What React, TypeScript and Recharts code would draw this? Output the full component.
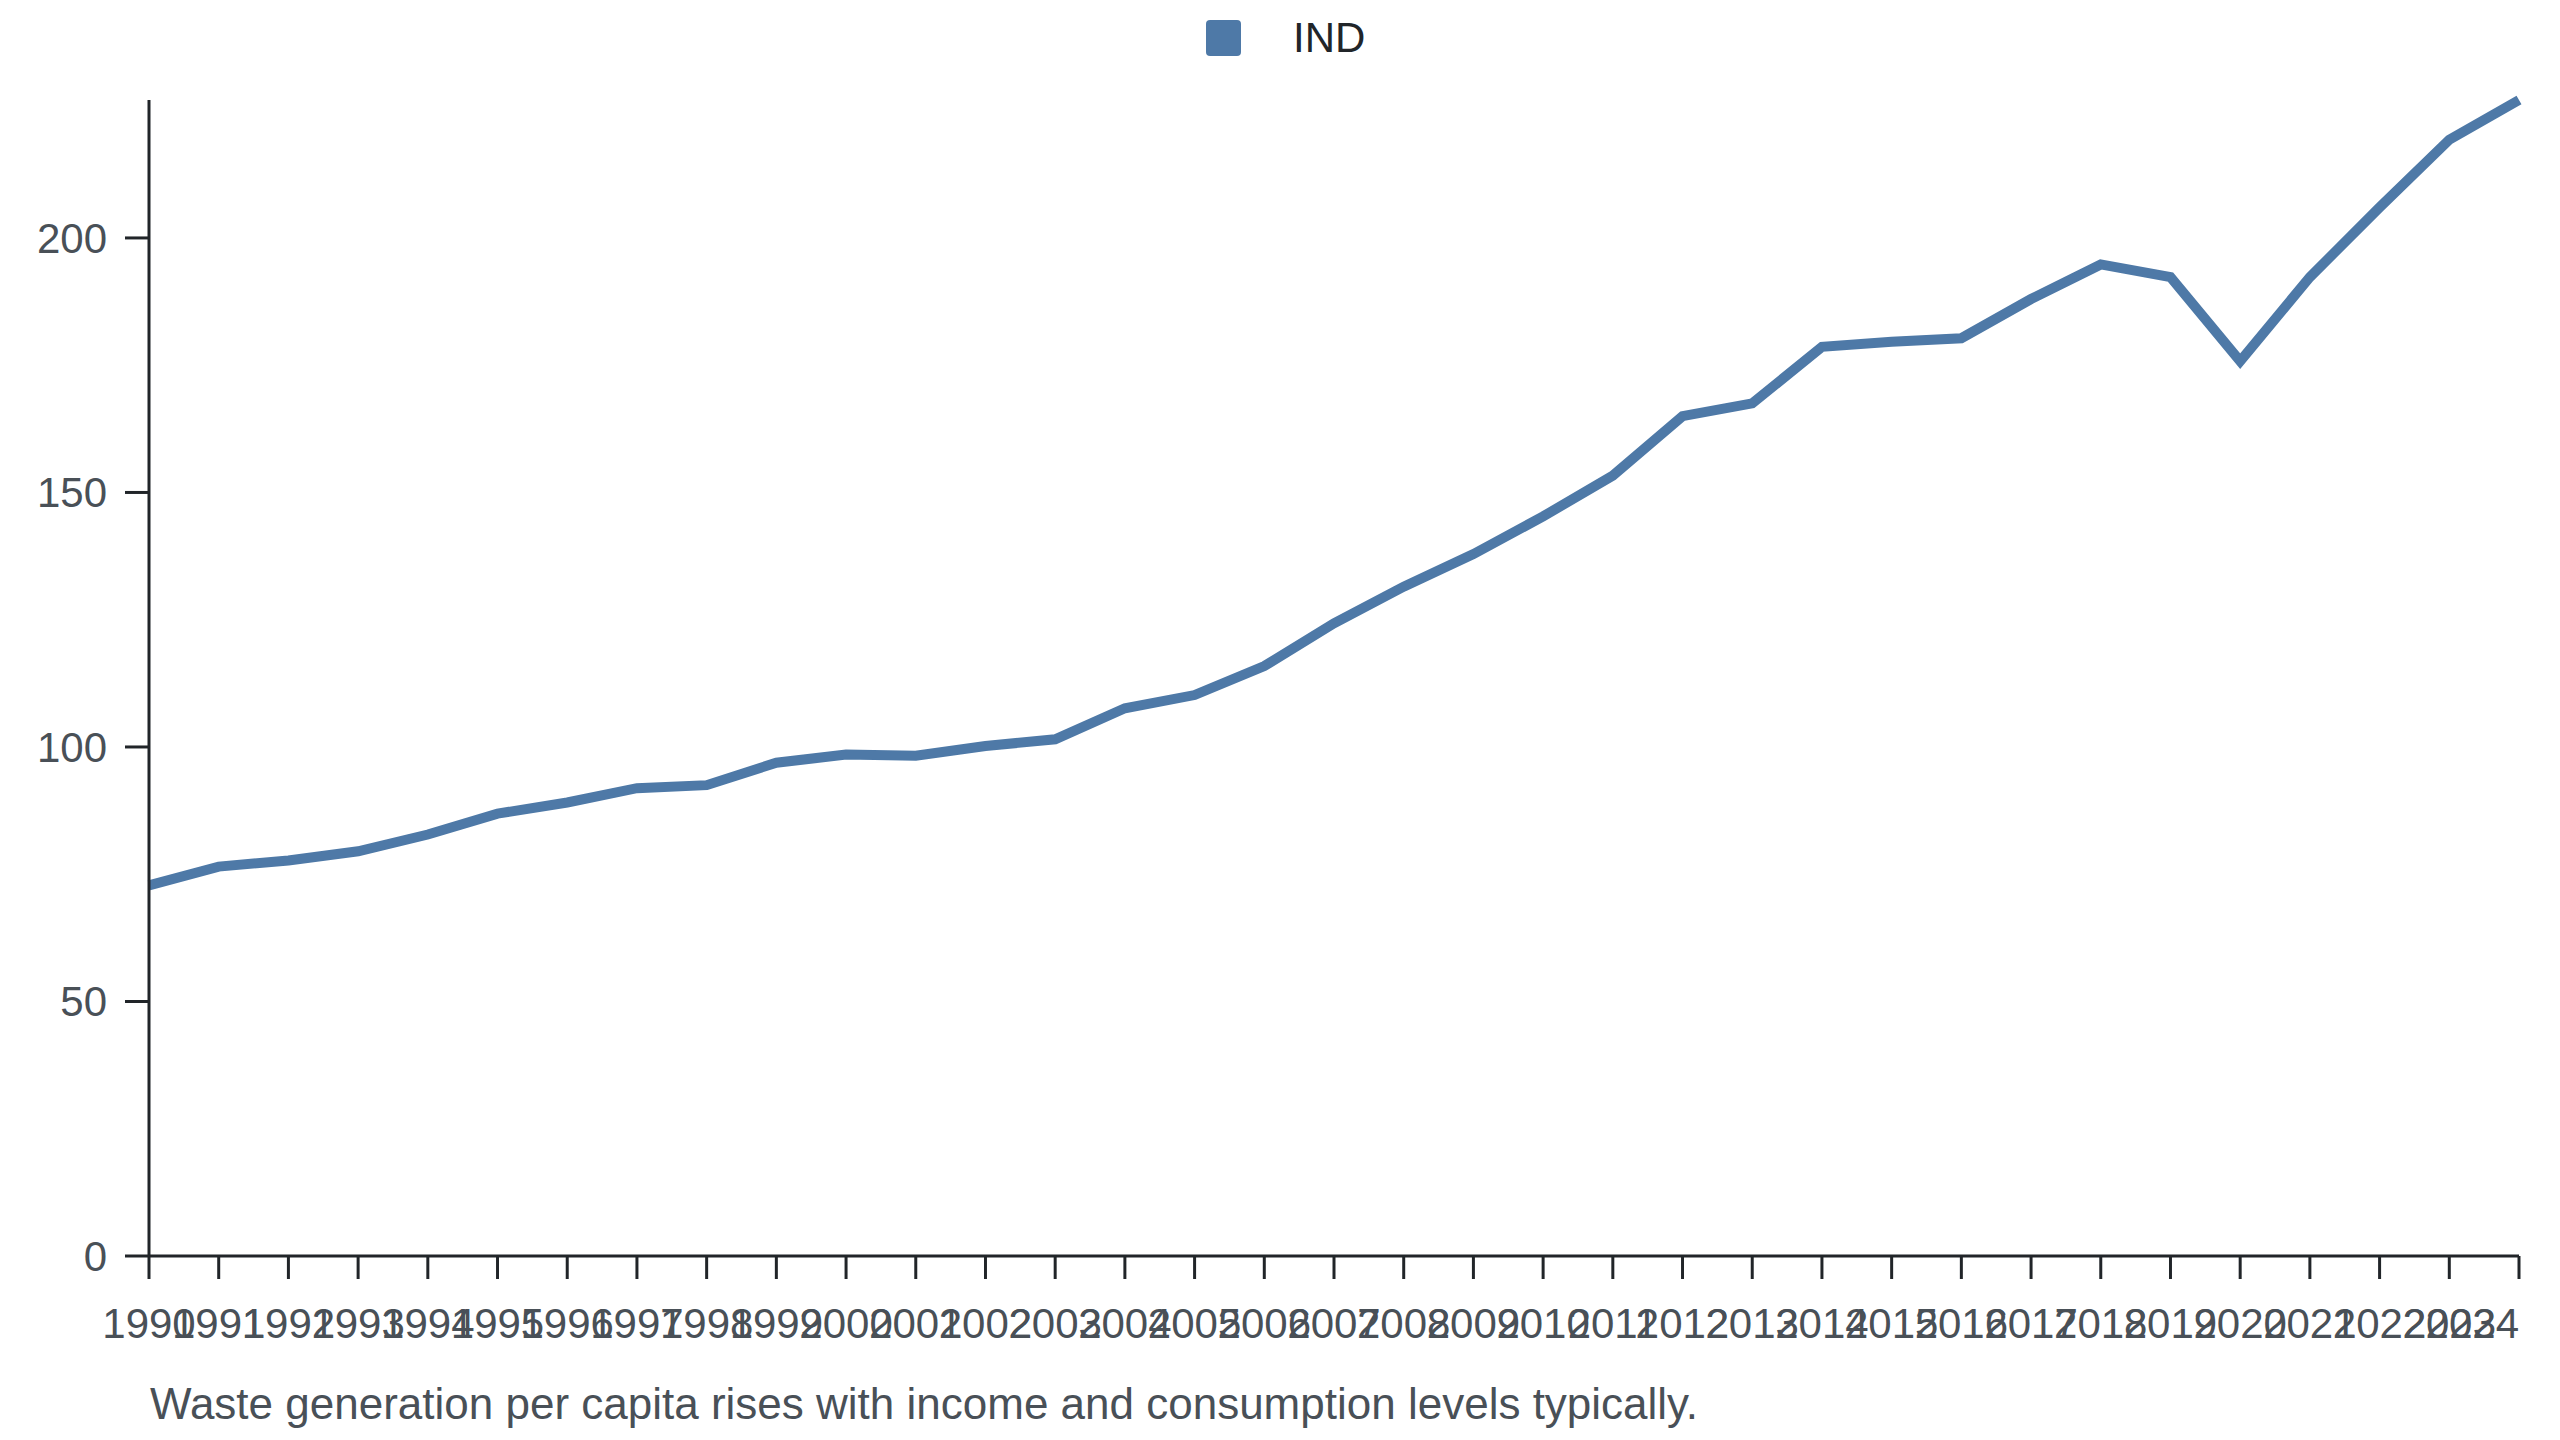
import React from "react";
import { LineChart, Line, XAxis, YAxis, Legend, Text } from "recharts";

const years: string[] = [
  "1990","1991","1992","1993","1994","1995","1996","1997","1998","1999",
  "2000","2001","2002","2003","2004","2005","2006","2007","2008","2009",
  "2010","2011","2012","2013","2014","2015","2016","2017","2018","2019",
  "2020","2021","2022","2023","2024",
];

const indValues: number[] = [
  72.8, 76.5, 77.7, 79.5, 82.8, 86.9, 89.1, 91.9, 92.5, 96.9,
  98.5, 98.3, 100.2, 101.5, 107.6, 110.2, 115.9, 124.3, 131.5, 137.9,
  145.3, 153.3, 165.0, 167.5, 178.6, 179.6, 180.3, 188.0, 194.8, 192.3,
  175.8, 192.3, 206.0, 219.3, 227.1,
];

const yTicks: number[] = [0, 50, 100, 150, 200];

const seriesName = "IND";
const caption =
  "Waste generation per capita rises with income and consumption levels typically.";

const data = years.map((y, i) => ({ year: y, IND: indValues[i] }));

const FONT = "'Liberation Sans', Arial, Helvetica, sans-serif";
const LINE_COLOR = "#4e79a7";
const AXIS_COLOR = "#212529";
const TICK_COLOR = "#495057";

const LegendContent = () => (
  <div
    style={{
      height: 92,
      paddingTop: 12,
      boxSizing: "border-box",
      display: "flex",
      alignItems: "flex-start",
      fontFamily: FONT,
    }}
  >
    <div
      style={{
        marginLeft: 1198,
        display: "flex",
        alignItems: "center",
        height: 36,
      }}
    >
      <div
        style={{
          width: 35,
          height: 36,
          background: LINE_COLOR,
          borderRadius: 4,
        }}
      />
      <span
        style={{
          marginLeft: 52,
          fontSize: 42,
          color: AXIS_COLOR,
          lineHeight: "36px",
        }}
      >
        {seriesName}
      </span>
    </div>
  </div>
);

const XTick = (props: any) => {
  const { x, y, payload, index } = props;
  const isLast = payload && payload.value === years[years.length - 1];
  return (
    <Text
      x={x}
      y={y}
      textAnchor={isLast ? "end" : "middle"}
      verticalAnchor="start"
      fill={TICK_COLOR}
      fontSize={42}
      fontFamily={FONT}
    >
      {payload.value}
    </Text>
  );
};

export default function App() {
  return (
    <div style={{ position: "relative", width: 2544, height: 1424, fontFamily: FONT }}>
      <LineChart
        width={2544}
        height={1360}
        data={data}
        margin={{ top: 0, right: 33, bottom: 0, left: 0 }}
      >
        <Legend
          verticalAlign="top"
          align="left"
          height={92}
          content={() => <LegendContent />}
        />
        <XAxis
          dataKey="year"
          interval={0}
          height={112}
          tickSize={23}
          tickMargin={29}
          axisLine={{ stroke: AXIS_COLOR, strokeWidth: 3 }}
          tickLine={{ stroke: AXIS_COLOR, strokeWidth: 3 }}
          tick={<XTick />}
        />
        <YAxis
          width={141}
          domain={[0, "dataMax"]}
          ticks={yTicks}
          tickSize={24}
          tickMargin={18}
          axisLine={{ stroke: AXIS_COLOR, strokeWidth: 3 }}
          tickLine={{ stroke: AXIS_COLOR, strokeWidth: 3 }}
          tick={{ fill: TICK_COLOR, fontSize: 42, fontFamily: FONT }}
        />
        <Line
          type="linear"
          dataKey="IND"
          name={seriesName}
          stroke={LINE_COLOR}
          strokeWidth={10}
          dot={false}
          activeDot={false}
          isAnimationActive={false}
        />
      </LineChart>
      <div
        style={{
          position: "absolute",
          left: 142,
          top: 1374,
          fontSize: 44,
          lineHeight: "44px",
          color: TICK_COLOR,
          whiteSpace: "nowrap",
          fontFamily: FONT,
        }}
      >
        {caption}
      </div>
    </div>
  );
}
